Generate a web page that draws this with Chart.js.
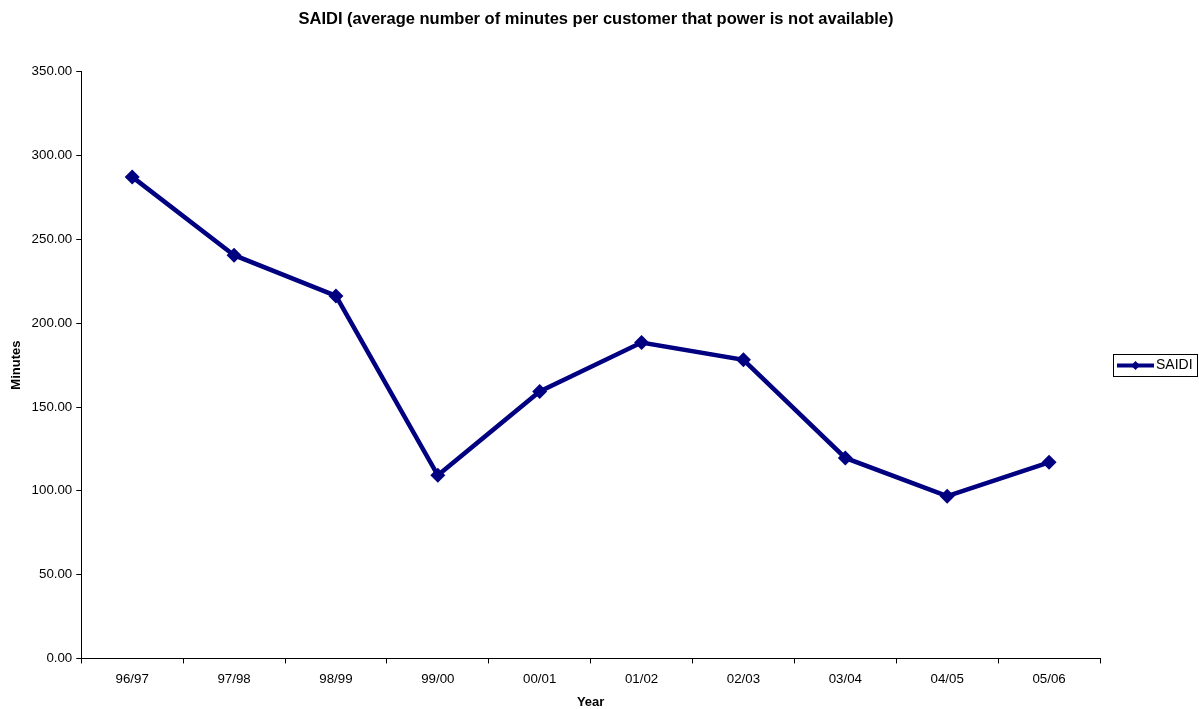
<!DOCTYPE html>
<html>
<head>
<meta charset="utf-8">
<script src="https://cdn.jsdelivr.net/npm/chart.js@4.4.0/dist/chart.umd.min.js"></script>
<style>
  html, body { margin: 0; padding: 0; background: #fff; }
  #wrap { width: 1199px; height: 709px; }
</style>
</head>
<body>
<div id="wrap"><canvas id="canvas" width="1199" height="709"></canvas></div>
<script>
// data
var years = ['96/97', '97/98', '98/99', '99/00', '00/01', '01/02', '02/03', '03/04', '04/05', '05/06'];
var saidi = [287.3, 240.6, 216.3, 109.3, 159.3, 188.5, 178.2, 119.6, 96.8, 117.0];

var navy = '#000080';
var fontFamily = "'Liberation Sans', Arial, sans-serif";

// Excel-style legend: framed box right of the plot, line + diamond marker
var legendBox = {
  id: 'legendBox',
  afterDraw: function(chart) {
    var a = chart.chartArea;
    var ctx = chart.ctx;
    var ds = chart.data.datasets[0];
    var w = 84, h = 22;
    var left = Math.round(a.right) + 13;
    var top = Math.round((a.top + a.bottom) / 2 - h / 2);
    var cy = top + h / 2 + 0.5;
    ctx.save();
    ctx.strokeStyle = '#000';
    ctx.lineWidth = 1;
    ctx.strokeRect(left + 0.5, top + 0.5, w, h);
    ctx.strokeStyle = ds.borderColor;
    ctx.lineWidth = 4;
    ctx.beginPath();
    ctx.moveTo(left + 4, cy);
    ctx.lineTo(left + 41, cy);
    ctx.stroke();
    ctx.fillStyle = ds.borderColor;
    var dx = left + 22.5;
    ctx.beginPath();
    ctx.moveTo(dx, cy - 4.5); ctx.lineTo(dx + 4.5, cy); ctx.lineTo(dx, cy + 4.5); ctx.lineTo(dx - 4.5, cy);
    ctx.closePath();
    ctx.fill();
    ctx.fillStyle = '#000';
    ctx.font = '14px ' + fontFamily;
    ctx.textBaseline = 'middle';
    ctx.textAlign = 'left';
    ctx.fillText(ds.label, left + 43, cy);
    ctx.restore();
  }
};

var config = {
  type: 'line',
  data: {
    labels: years,
    datasets: [{
      label: 'SAIDI',
      data: saidi,
      borderColor: navy,
      backgroundColor: navy,
      borderWidth: 4.5,
      pointStyle: 'rectRot',
      pointRadius: 7.5,
      pointHoverRadius: 7.5,
      pointBackgroundColor: navy,
      pointBorderColor: navy,
      pointBorderWidth: 0,
      tension: 0,
      fill: false
    }]
  },
  options: {
    responsive: false,
    animation: false,
    layout: { padding: { left: 0, right: 7, top: 0, bottom: 0 } },
    plugins: {
      title: {
        display: true,
        text: 'SAIDI (average number of minutes per customer that power is not available)',
        color: '#000',
        font: { family: fontFamily, size: 16.5, weight: 'bold' },
        padding: { top: 10, bottom: 42 }
      },
      legend: { display: false },
      tooltip: { enabled: false }
    },
    scales: {
      x: {
        offset: true,
        grid: {
          offset: true,
          drawOnChartArea: false,
          drawTicks: true,
          tickLength: 5,
          color: '#000'
        },
        border: { display: true, color: '#000', width: 1 },
        ticks: {
          color: '#000',
          font: { family: fontFamily, size: 13.3 },
          padding: 8,
          maxRotation: 0,
          autoSkip: false
        },
        title: {
          display: true,
          text: 'Year',
          color: '#000',
          font: { family: fontFamily, size: 13, weight: 'bold' },
          padding: { top: -1, bottom: -1 }
        }
      },
      y: {
        min: 0,
        max: 350,
        grid: {
          drawOnChartArea: false,
          drawTicks: true,
          tickLength: 5,
          color: '#000'
        },
        border: { display: true, color: '#000', width: 1 },
        ticks: {
          stepSize: 50,
          color: '#000',
          font: { family: fontFamily, size: 13.3 },
          padding: 4,
          callback: function(v) { return v.toFixed(2); }
        },
        title: {
          display: true,
          text: 'Minutes',
          color: '#000',
          font: { family: fontFamily, size: 13, weight: 'bold' },
          padding: { top: 9, bottom: 3 }
        }
      },
      // empty right-hand axis, only reserves room for the legend
      legendRoom: {
        type: 'linear',
        position: 'right',
        display: true,
        grid: { display: false },
        border: { display: false },
        ticks: { display: false },
        afterFit: function(scale) { scale.width = 92; }
      }
    }
  },
  plugins: [legendBox]
};

window.onload = function() {
  var ctx = document.getElementById('canvas').getContext('2d');
  window.myLine = new Chart(ctx, config);
};
</script>
</body>
</html>
